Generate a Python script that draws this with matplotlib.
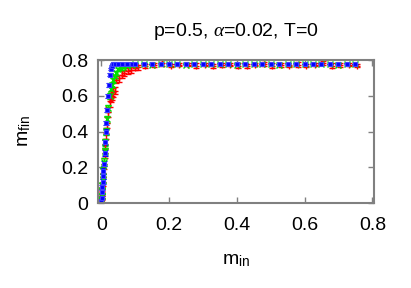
import matplotlib
matplotlib.use("Agg")
import matplotlib.pyplot as plt

# ── Data ─────────────────────────────────────────────────────────────────────
plateau_x = [0.125, 0.15, 0.175, 0.2, 0.225, 0.25, 0.275, 0.3, 0.325, 0.35,
             0.375, 0.4, 0.425, 0.45, 0.475, 0.5, 0.525, 0.55, 0.575, 0.6,
             0.625, 0.65, 0.675, 0.7, 0.725, 0.75]
red_plateau_x = [0.13, 0.155, 0.18, 0.205, 0.23, 0.255, 0.28, 0.305, 0.33, 0.355,
                 0.38, 0.405, 0.43, 0.455, 0.48, 0.505, 0.53, 0.555, 0.58, 0.605,
                 0.63, 0.655, 0.68, 0.705, 0.73, 0.755]

red_x = [0.000, 0.001, 0.002, 0.003, 0.004, 0.006, 0.008, 0.010, 0.012, 0.015,
         0.018, 0.021, 0.025, 0.029, 0.032, 0.036, 0.040, 0.045, 0.052, 0.060,
         0.068, 0.078, 0.089, 0.100, 0.108] + red_plateau_x
red_y = [0.01, 0.03, 0.06, 0.09, 0.12, 0.17, 0.22, 0.28, 0.33, 0.39,
         0.45, 0.51, 0.57, 0.59, 0.60, 0.62, 0.63, 0.69, 0.70, 0.72,
         0.73, 0.74, 0.745, 0.755, 0.76,
         0.768, 0.772, 0.785, 0.770, 0.774, 0.776, 0.770, 0.775, 0.768, 0.774,
         0.776, 0.770, 0.768, 0.774, 0.780, 0.770, 0.774, 0.768, 0.776, 0.770,
         0.774, 0.784, 0.770, 0.774, 0.776, 0.770]
red_err = [0.01, 0.015, 0.02, 0.02, 0.025, 0.025, 0.03, 0.03, 0.03, 0.03,
           0.03, 0.03, 0.03, 0.025, 0.025, 0.025, 0.02, 0.02, 0.02, 0.02,
           0.018, 0.015, 0.015, 0.012, 0.012,
           0.01, 0.01, 0.015, 0.01, 0.008, 0.01, 0.012, 0.008, 0.01, 0.01,
           0.008, 0.012, 0.01, 0.008, 0.01, 0.015, 0.01, 0.008, 0.012, 0.01,
           0.008, 0.012, 0.015, 0.01, 0.01, 0.01]

green_x = [0.000, 0.001, 0.002, 0.003, 0.004, 0.006, 0.008, 0.010, 0.012, 0.015,
           0.018, 0.021, 0.025, 0.028, 0.031, 0.035, 0.040, 0.045, 0.050, 0.057,
           0.064, 0.075, 0.090, 0.100] + plateau_x
green_y = [0.02, 0.04, 0.07, 0.10, 0.13, 0.18, 0.23, 0.29, 0.34, 0.40,
           0.47, 0.53, 0.60, 0.64, 0.66, 0.69, 0.71, 0.73, 0.75, 0.755,
           0.76, 0.77, 0.775, 0.778,
           0.778, 0.776, 0.778, 0.780, 0.778, 0.776, 0.778, 0.778, 0.777, 0.779,
           0.778, 0.776, 0.778, 0.779, 0.777, 0.778, 0.776, 0.778, 0.779, 0.778,
           0.777, 0.778, 0.778, 0.776, 0.778, 0.777]
green_err = [0.01, 0.012, 0.015, 0.015, 0.02, 0.02, 0.02, 0.02, 0.02, 0.02,
             0.02, 0.018, 0.015, 0.015, 0.012, 0.012, 0.01, 0.01, 0.008, 0.008,
             0.006, 0.005, 0.004, 0.004] + [0.004] * len(plateau_x)

blue_x = [0.000, 0.001, 0.002, 0.003, 0.004, 0.005, 0.006, 0.008, 0.010, 0.012,
          0.013, 0.015, 0.018, 0.020, 0.022, 0.025, 0.028, 0.032, 0.036, 0.040,
          0.050, 0.060, 0.075, 0.090, 0.100] + plateau_x
blue_y = [0.01, 0.03, 0.06, 0.09, 0.12, 0.15, 0.18, 0.22, 0.28, 0.34,
          0.40, 0.45, 0.52, 0.60, 0.66, 0.72, 0.75, 0.77, 0.78, 0.78,
          0.780, 0.780, 0.780, 0.780, 0.780,
          0.780, 0.779, 0.780, 0.780, 0.779, 0.780, 0.780, 0.779, 0.780, 0.780,
          0.779, 0.780, 0.780, 0.779, 0.780, 0.780, 0.779, 0.780, 0.780, 0.779,
          0.780, 0.780, 0.779, 0.780, 0.780, 0.779]
blue_err = [0.01, 0.01, 0.012, 0.012, 0.015, 0.015, 0.015, 0.015, 0.015, 0.015,
            0.015, 0.012, 0.012, 0.01, 0.01, 0.008, 0.006, 0.004, 0.003, 0.003] + \
           [0.002] * 5 + [0.002] * len(plateau_x)

x_ticks = [0, 0.2, 0.4, 0.6, 0.8]
x_tick_labels = ["0", "0.2", "0.4", "0.6", "0.8"]
y_ticks = [0, 0.2, 0.4, 0.6, 0.8]
y_tick_labels = ["0", "0.2", "0.4", "0.6", "0.8"]

# ── Figure ───────────────────────────────────────────────────────────────────
plt.rcParams["font.family"] = ["Liberation Sans", "DejaVu Sans"]
plt.rcParams["mathtext.fontset"] = "custom"
plt.rcParams["mathtext.rm"] = "Liberation Sans"
plt.rcParams["mathtext.it"] = "Liberation Serif:italic"

fig = plt.figure(figsize=(4.11, 2.88), dpi=100)
ax = fig.add_axes([0.238, 0.295, 0.672, 0.497])

ax.errorbar(red_x, red_y, yerr=red_err, fmt="+", color="#ff0000", ms=5,
            mew=1.0, elinewidth=1.0, capsize=2.5)
ax.errorbar(green_x, green_y, yerr=green_err, fmt="x", color="#00e000", ms=4,
            mew=1.0, elinewidth=1.0, capsize=2.5)
ax.errorbar(blue_x, blue_y, yerr=blue_err, fmt="s", color="#0000ff", ms=3.5,
            mew=0.8, mec="#4040ff", elinewidth=1.0, capsize=2.5)

ax.set_xlim(-0.01, 0.805)
ax.set_ylim(0, 0.802)
ax.set_xticks(x_ticks)
ax.set_xticklabels(x_tick_labels)
ax.set_yticks(y_ticks)
ax.set_yticklabels(y_tick_labels)

for s in ax.spines.values():
    s.set_color("#808080")
    s.set_linewidth(1.5)
ax.tick_params(direction="in", length=4, width=1, color="#808080",
               top=True, right=True, labelsize=14)
ax.tick_params(axis="x", pad=10)
ax.tick_params(axis="y", pad=7)

ax.set_title(r"p=0.5, $\alpha$=0.02, T=0", fontsize=14, pad=17)
ax.set_xlabel(r"m$_{\rm in}$", fontsize=14, labelpad=13)
ax.set_ylabel(r"m$_{\rm fin}$", fontsize=14, labelpad=20)

fig.savefig("out.png", dpi=100)
